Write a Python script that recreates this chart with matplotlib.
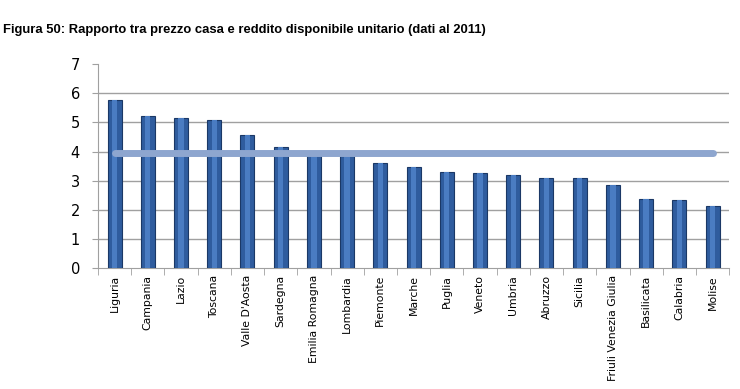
import numpy as np
import matplotlib.pyplot as plt

regioni = ['Liguria', 'Campania', 'Lazio', 'Toscana', "Valle D'Aosta", 'Sardegna',
           'Emilia Romagna', 'Lombardia', 'Piemonte', 'Marche', 'Puglia', 'Veneto',
           'Umbria', 'Abruzzo', 'Sicilia', 'Friuli Venezia Giulia', 'Basilicata',
           'Calabria', 'Molise']
rapporto = [5.77, 5.21, 5.16, 5.07, 4.58, 4.14, 3.88, 3.85, 3.62, 3.46, 3.31,
            3.28, 3.18, 3.10, 3.10, 2.85, 2.38, 2.33, 2.13]
media_italia = [3.94] * len(regioni)

fig = plt.figure(figsize=(7.4, 3.89), dpi=100)
ax = fig.add_axes([0.1324, 0.311, 0.853, 0.524])

x = np.arange(len(regioni))
ax.bar(x, rapporto, width=0.42, color='#2f5c9e', edgecolor='#1b3866', linewidth=0.8, zorder=3)
# riflesso chiaro al centro delle barre
ax.bar(x, rapporto, width=0.16, color='#4a7cc2', linewidth=0, zorder=3)
ax.plot(x, media_italia, color='#8ea6cf', linewidth=5, solid_capstyle='round', zorder=4)

ax.set_xlim(-0.5, len(regioni) - 0.5)
ax.set_ylim(0, 7)
ax.set_yticks(range(0, 8))
for g in range(1, 7):
    ax.axhline(g, color='#a0a0a0', linewidth=1, zorder=0)

for s in ['top', 'right']:
    ax.spines[s].set_visible(False)
ax.spines['left'].set_color('#a0a0a0')
ax.spines['bottom'].set_color('#a0a0a0')

ax.set_xticks(x)
ax.set_xticklabels(regioni, rotation=90, fontsize=7.8, family='DejaVu Sans')
ax.set_xticks(np.arange(-0.5, len(regioni)), minor=True)
ax.tick_params(axis='x', which='major', length=0, pad=5)
ax.tick_params(axis='x', which='minor', length=5, color='#a0a0a0')
ax.tick_params(axis='y', length=4, color='#a0a0a0', labelsize=10.5, pad=9)

fig.text(0.004, 0.923, 'Figura 50: Rapporto tra prezzo casa e reddito disponibile unitario (dati al 2011)',
         fontsize=9.4, fontweight='bold', family='Liberation Sans', va='center')

fig.savefig('out.png', dpi=100)
